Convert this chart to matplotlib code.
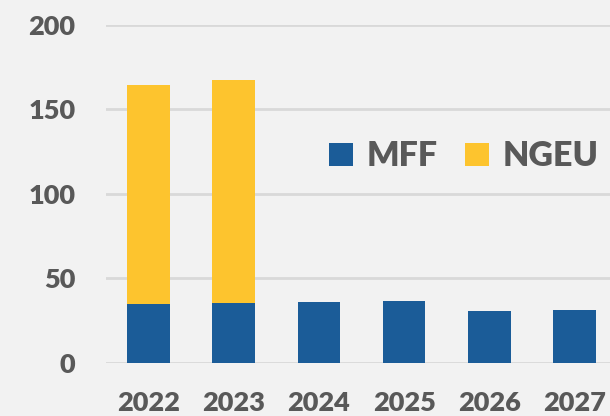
import matplotlib
matplotlib.use("Agg")
import matplotlib.pyplot as plt
import numpy as np

years = ["2022", "2023", "2024", "2025", "2026", "2027"]
mff = [34.7, 35.3, 35.9, 36.5, 30.4, 31.0]
ngeu = [129.6, 131.8, 0, 0, 0, 0]
yticks = [0, 50, 100, 150, 200]

blue = "#1B5C98"
yellow = "#FDC42E"
bg = "#F2F2F2"
txt = "#595959"

plt.rcParams["font.family"] = ["Lato", "DejaVu Sans"]

fig = plt.figure(figsize=(6.10, 4.16), dpi=100, facecolor=bg)
ax = fig.add_axes([0.1738, 0.128, 0.8377, 0.8126], facecolor=bg)

x = np.arange(len(years))
ax.bar(x, mff, width=0.5, color=blue, label="MFF", zorder=3)
ax.bar(x, ngeu, width=0.5, bottom=mff, color=yellow, label="NGEU", zorder=3)

ax.set_xlim(-0.5, len(years) - 0.5)
ax.set_ylim(0, 200)
ax.set_yticks(yticks)
ax.set_yticklabels([str(v) for v in yticks])
ax.set_xticks(x)
ax.set_xticklabels(years)
ax.yaxis.grid(True, color="#D9D9D9", linewidth=2, zorder=0)
ax.set_axisbelow(True)
for s in ax.spines.values():
    s.set_visible(False)
ax.tick_params(axis="both", length=0, labelsize=19.5, labelcolor=txt)
ax.tick_params(axis="y", pad=22)
ax.tick_params(axis="x", pad=20)
for lab in ax.get_xticklabels() + ax.get_yticklabels():
    lab.set_fontweight("heavy")

leg = ax.legend(loc="upper left", bbox_to_anchor=(0.41, 0.698), ncol=2,
                frameon=False, prop={"size": 24.5, "weight": "heavy"},
                handlelength=0.7, handleheight=0.7, handletextpad=0.4,
                columnspacing=0.8, labelcolor=txt, borderaxespad=0)

fig.savefig("out.png", dpi=100, facecolor=bg)
